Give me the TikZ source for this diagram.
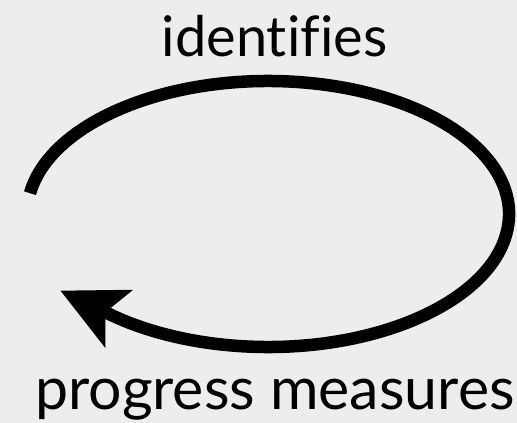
\documentclass[tikz,border=0pt]{standalone}
\usepackage{fontspec}
\setmainfont{Lato}[Ligatures=NoCommon]
\usetikzlibrary{arrows.meta}
\definecolor{bgcol}{RGB}{237,237,237}

\begin{document}
\begin{tikzpicture}[x=1pt, y=1pt,
    cycle/.style={draw, line width=12.5pt, -{Stealth[length=64pt, width=62pt, inset=14pt]}},
    word/.style={anchor=base, inner sep=0pt, font=\fontsize{56}{60}\selectfont}]
	% background
	\fill[bgcol] (0,0) rectangle (517,423);
	\useasboundingbox (0,0) rectangle (517,423);
	% the two labels
	\node[word] (identifies) at (274.5,366) {identif\kern0pt ies};
	\node[word, font=\fontsize{59}{63}\selectfont] (measures) at (275,13) {progress measures};
	% the loop: start on the left, round the top, back along the bottom
	\coordinate (start) at (30.0,229.8);
	\coordinate (tip) at (60.3,132.4);
	\path[cycle] (start) arc[start angle=171, end angle=-131, x radius=241, y radius=133] -- (tip);
\end{tikzpicture}
\end{document}
